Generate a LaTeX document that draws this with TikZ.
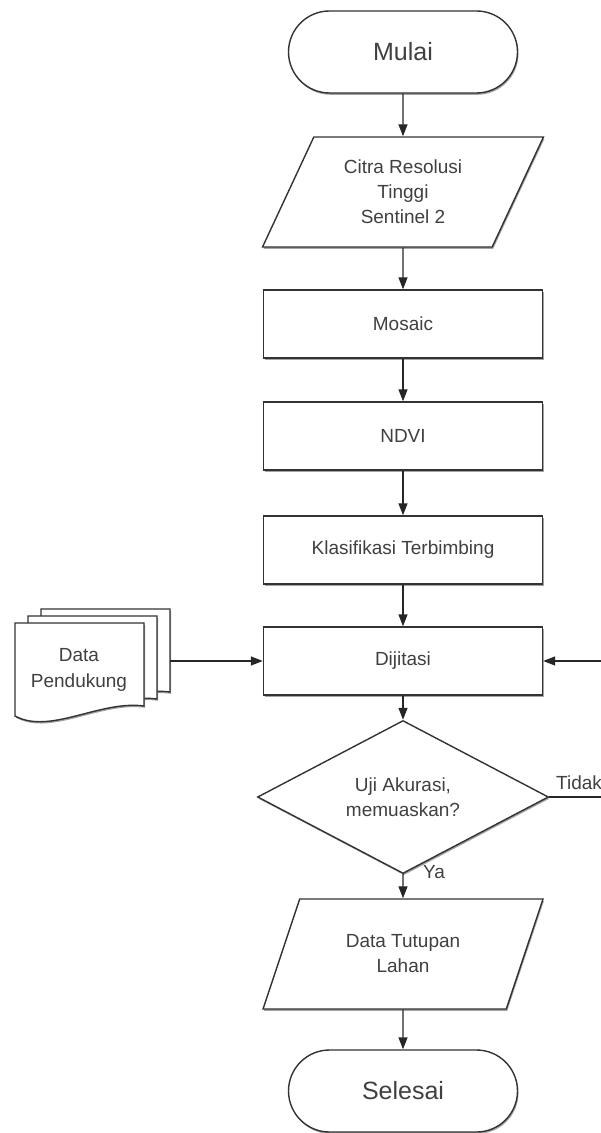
\documentclass[tikz,border=0pt]{standalone}
\usepackage{fontspec}
\setmainfont{Liberation Sans}
\usetikzlibrary{shapes.geometric,shapes.misc,arrows.meta,shadows}

\tikzset{
  base/.style={draw=black!80, line width=0.7pt, fill=white, text=black!75,
    font=\fontsize{9.5}{12.5}\selectfont, align=center, inner sep=0pt,
    drop shadow={shadow xshift=0.5pt, shadow yshift=-0.9pt, fill=black!60, opacity=0.6}},
  terminal/.style={base, rounded rectangle, minimum width=114.5pt, minimum height=41pt,
    font=\fontsize{12.5}{15}\selectfont},
  process/.style={base, rectangle, minimum width=139.5pt, minimum height=34pt},
  io/.style={base, trapezium, trapezium left angle=62, trapezium right angle=118,
    trapezium stretches=true, minimum width=141pt, minimum height=55pt},
  decision/.style={base, diamond, minimum width=145.5pt, minimum height=58.5pt},
  sheet/.style={draw=black!80, line width=0.7pt, fill=white,
    drop shadow={shadow xshift=0.5pt, shadow yshift=-0.9pt, fill=black!60, opacity=0.6}},
  docname/.style={text=black!75, font=\fontsize{9.5}{13}\selectfont, align=center, inner sep=0pt},
  answer/.style={text=black!75, font=\fontsize{9.5}{12}\selectfont, inner sep=0pt},
  arrow/.style={draw=black!85, line width=0.7pt, -{Triangle[length=6pt,width=4.5pt]}}
}

\begin{document}
\begin{tikzpicture}[x=0.5pt, y=-0.5pt]

\useasboundingbox (0,0) rectangle (600,1133);

% main flow
\node[terminal] (mulai) at (403,52) {Mulai};
\node[io] (citra) at (403,192) {Citra Resolusi\\Tinggi\\Sentinel 2};
\node[process] (mosaic) at (403,324) {Mosaic};
\node[process] (ndvi) at (403,436) {NDVI};
\node[process] (klasifikasi) at (403,550) {Klasifikasi Terbimbing};
\node[process] (dijitasi) at (403,661) {Dijitasi};
\node[decision] (uji) at (403,797) {Uji Akurasi,\\memuaskan?};
\node[io] (tutupan) at (403,954) {Data Tutupan\\Lahan};
\node[terminal] (selesai) at (403,1091) {Selesai};

% data pendukung (multi document)
\foreach \dx/\dy in {26/-14, 13/-7, 0/0}
  \draw[sheet] ({15+\dx},{623+\dy}) -- ({144+\dx},{623+\dy}) -- ({144+\dx},{706+\dy})
    .. controls ({100+\dx},{700+\dy}) and ({50+\dx},{735+\dy}) .. ({15+\dx},{716+\dy}) -- cycle;
\node[docname] (pendukung) at (79,670) {Data\\Pendukung};
\coordinate (pendukung-out) at (170,661);

% connectors
\draw[arrow] (mulai) -- (citra);
\draw[arrow] (citra) -- (mosaic);
\draw[arrow] (mosaic) -- (ndvi);
\draw[arrow] (ndvi) -- (klasifikasi);
\draw[arrow] (klasifikasi) -- (dijitasi);
\draw[arrow] (pendukung-out) -- (dijitasi.west);
\draw[arrow] (dijitasi) -- (uji);
\draw[arrow] (uji) -- (tutupan);
\draw[arrow] (tutupan) -- (selesai);

% feedback loop
\coordinate (loop) at (615,797);
\draw[arrow] (uji.east) -- (loop) |- (dijitasi.east);

\node[answer] (ya) at (434,872) {Ya};
\node[answer] (tidak) at (579,783) {Tidak};

\end{tikzpicture}
\end{document}
